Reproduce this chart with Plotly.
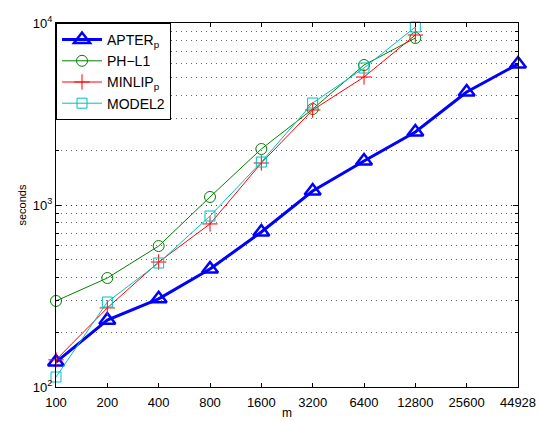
import plotly.graph_objects as go

categories = ["100", "200", "400", "800", "1600", "3200", "6400", "12800", "25600", "44928"]
apter = [137, 233, 305, 445, 711, 1194, 1745, 2518, 4178, 5954]
phl1 = [297, 397, 595, 1107, 2031, 3368, 5877, 8272]
minlip = [141, 272, 486, 787, 1701, 3326, 5050, 8590]
model2 = [113.5, 293, 480, 870, 1722, 3634, 5660, 9506]
ytick_vals = [100, 1000, 10000]
ytick_text = ["10<sup>2</sup>", "10<sup>3</sup>", "10<sup>4</sup>"]

fig = go.Figure()
fig.add_trace(go.Scatter(x=categories, y=apter, name="APTER<sub>p</sub>", mode="lines+markers",
                         cliponaxis=False,
                         line=dict(color="#0000FF", width=3),
                         marker=dict(symbol="triangle-up-open", size=14, color="#0000FF", line=dict(width=2.5))))
fig.add_trace(go.Scatter(x=categories[:8], y=phl1, name="PH\u2212L1", mode="lines+markers",
                         cliponaxis=False,
                         line=dict(color="#008000", width=1),
                         marker=dict(symbol="circle-open", size=11, color="#008000", line=dict(width=1))))
fig.add_trace(go.Scatter(x=categories[:8], y=minlip, name="MINLIP<sub>p</sub>", mode="lines+markers",
                         cliponaxis=False,
                         line=dict(color="#FF0000", width=1),
                         marker=dict(symbol="cross-thin-open", size=11, color="#FF0000", line=dict(width=1, color="#FF0000"))))
fig.add_trace(go.Scatter(x=categories[:8], y=model2, name="MODEL2", mode="lines+markers",
                         cliponaxis=False,
                         line=dict(color="#00BFBF", width=1),
                         marker=dict(symbol="square-open", size=10, color="#00BFBF", line=dict(width=1))))

fig.update_layout(
    width=539, height=421,
    margin=dict(l=56, r=21, t=23, b=34),
    paper_bgcolor="white", plot_bgcolor="white",
    font=dict(family="Liberation Sans", size=12, color="black"),
    showlegend=True,
    legend=dict(x=0, y=1, xanchor="left", yanchor="top", bgcolor="white",
                bordercolor="black", borderwidth=1, font=dict(size=14),
                tracegroupgap=0, itemwidth=40),
    xaxis=dict(type="category", range=[0, 9], showline=True, linecolor="black", linewidth=1,
               mirror="ticks", ticks="inside", ticklen=4, tickcolor="black", showgrid=False,
               ticklabelstandoff=3, automargin=False,
               title=dict(text="m", standoff=0, font=dict(size=12)), tickfont=dict(size=13)),
    yaxis=dict(type="log", range=[2, 4], showline=True, linecolor="black", linewidth=1,
               mirror="ticks", ticks="inside", ticklen=5, tickcolor="black", automargin=False,
               tickvals=ytick_vals, ticktext=ytick_text, tickfont=dict(size=13),
               showgrid=True, gridcolor="#333333", griddash="1px,4px", gridwidth=1,
               minor=dict(dtick="D1", ticks="inside", ticklen=3, tickcolor="black", showgrid=True,
                          gridcolor="#666666", griddash="1px,4px", gridwidth=1),
               title=dict(text="seconds", standoff=4, font=dict(size=11))),
)

fig.write_html("out.html")
